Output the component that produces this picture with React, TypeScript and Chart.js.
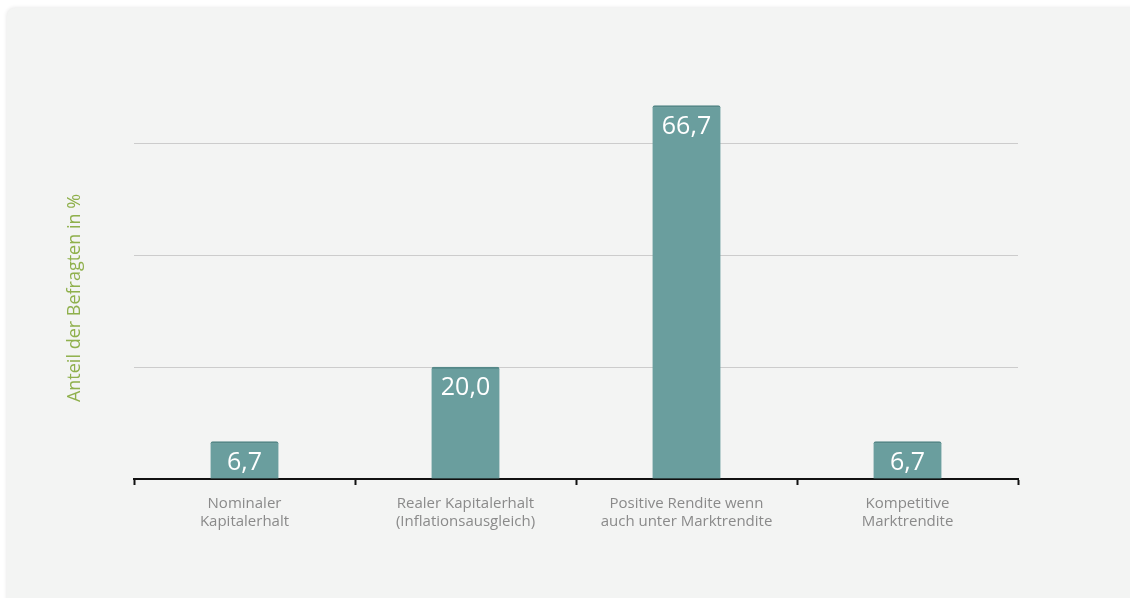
import React, { useEffect, useRef } from "react";
import { Chart, registerables } from "chart.js";

Chart.register(...registerables);

const categories: string[][] = [
  ["Nominaler", "Kapitalerhalt"],
  ["Realer Kapitalerhalt", "(Inflationsausgleich)"],
  ["Positive Rendite wenn", "auch unter Marktrendite"],
  ["Kompetitive", "Marktrendite"],
];
const values: number[] = [6.7, 20.0, 66.7, 6.7];
const valueLabels: string[] = ["6,7", "20,0", "66,7", "6,7"];
const yTitle = "Anteil der Befragten in %";

const barLabelPlugin = {
  id: "barLabels",
  afterDatasetsDraw(chart: any) {
    const ctx = chart.ctx;
    const meta = chart.getDatasetMeta(0);
    ctx.save();
    ctx.fillStyle = "#ffffff";
    ctx.font = "25px 'Open Sans', sans-serif";
    ctx.textAlign = "center";
    ctx.textBaseline = "middle";
    meta.data.forEach((bar: any, i: number) => {
      ctx.fillText(valueLabels[i], bar.x, bar.y + 21);
    });
    ctx.restore();
  },
};

const yTitlePlugin = {
  id: "yTitle",
  afterDraw(chart: any) {
    const ctx = chart.ctx;
    ctx.save();
    ctx.translate(68, 290);
    ctx.rotate(-Math.PI / 2);
    ctx.fillStyle = "#8fb04c";
    ctx.font = "18px 'Open Sans', sans-serif";
    ctx.textAlign = "center";
    ctx.textBaseline = "middle";
    ctx.fillText(yTitle, 0, 0);
    ctx.restore();
  },
};

export default function App() {
  const ref = useRef<HTMLCanvasElement>(null);
  useEffect(() => {
    if (!ref.current) return;
    const chart = new Chart(ref.current, {
      type: "bar",
      data: {
        labels: categories,
        datasets: [
          {
            data: values,
            backgroundColor: "#6a9e9e",
            borderColor: "#558888",
            borderWidth: { top: 2, left: 0, right: 0, bottom: 0 },
            borderSkipped: "bottom",
            borderRadius: 2,
            barThickness: 68,
          },
        ],
      },
      options: {
        animation: false,
        responsive: false,
        maintainAspectRatio: false,
        layout: { padding: { left: 55, right: 112, top: 79, bottom: 0 } },
        plugins: {
          legend: { display: false },
          tooltip: { enabled: false },
        },
        scales: {
          x: {
            grid: {
              offset: true,
              drawOnChartArea: false,
              drawTicks: true,
              tickLength: 6,
              tickWidth: 2,
              tickColor: "#111111",
            },
            border: { display: true, color: "#111111", width: 2 },
            ticks: {
              color: "#8a8a8a",
              font: { family: "'Open Sans', sans-serif", size: 15, lineHeight: 1.2 },
              padding: 10,
              maxRotation: 0,
              autoSkip: false,
            },
            afterFit(scale: any) {
              scale.height = 119;
            },
          },
          y: {
            min: 0,
            max: 70,
            ticks: { display: false, stepSize: 20 },
            grid: {
              drawTicks: false,
              color: (c: any) =>
                c.tick && c.tick.value > 0 && c.tick.value % 20 === 0 ? "#cccccc" : "rgba(0,0,0,0)",
              lineWidth: 1,
            },
            border: { display: false },
            afterFit(scale: any) {
              scale.width = 72;
            },
          },
        },
      },
      plugins: [barLabelPlugin, yTitlePlugin],
    });
    return () => chart.destroy();
  }, []);

  return (
    <div
      style={{
        position: "absolute",
        left: 7,
        top: 8,
        width: 1140,
        height: 600,
        background: "#f3f4f3",
        borderRadius: 8,
        boxShadow: "0 0 4px rgba(0,0,0,0.12)",
      }}
    >
      <canvas ref={ref} width={1123} height={590} style={{ display: "block" }} />
    </div>
  );
}
